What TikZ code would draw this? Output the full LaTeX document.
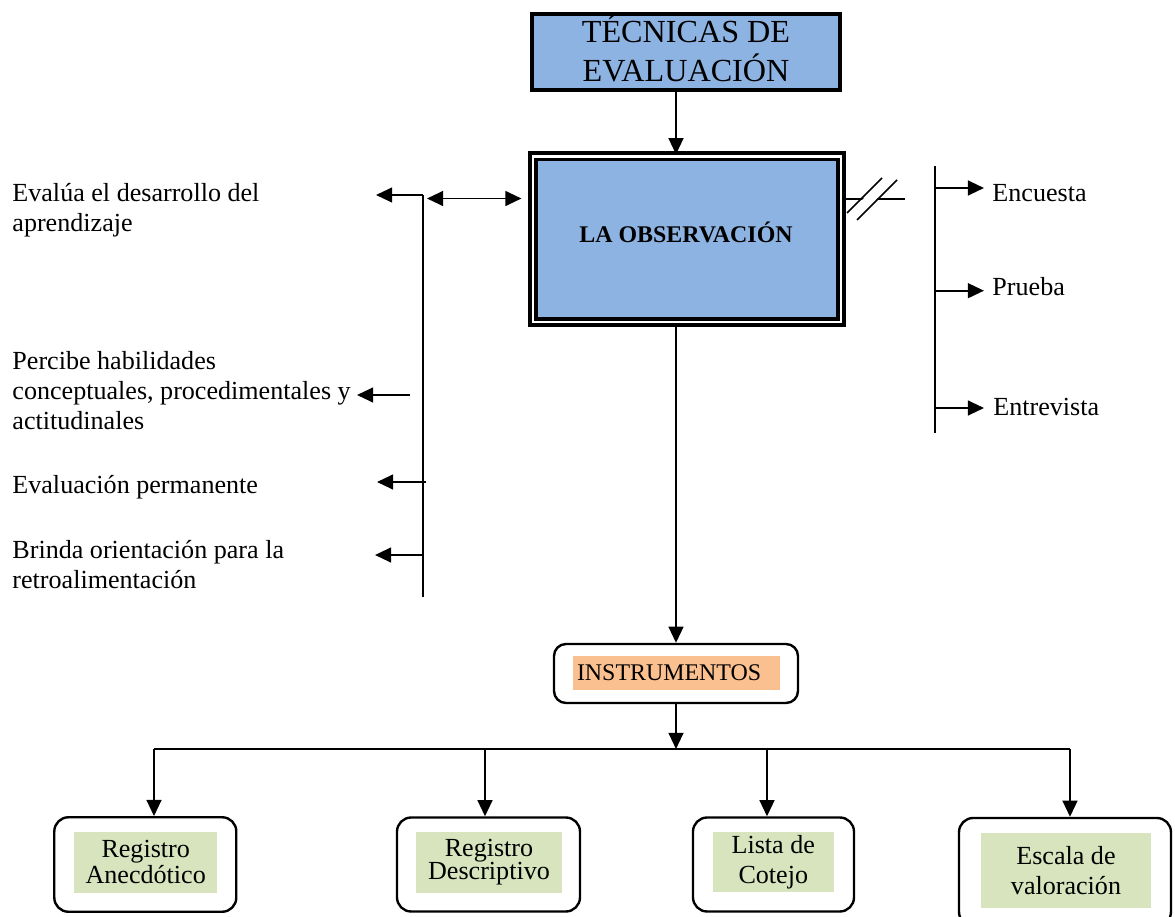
\documentclass[tikz,border=0pt]{standalone}
\usepackage{fontspec}
\setmainfont{Liberation Serif}
\usetikzlibrary{arrows.meta}

\newcommand\pxu{0.46pt}
\definecolor{obsblue}{HTML}{8DB3E2}
\definecolor{tagorange}{HTML}{FAC090}
\definecolor{taggreen}{HTML}{D7E4BD}

\tikzset{
  sz/.style 2 args={minimum width={#1*\pxu}, minimum height={#2*\pxu}},
  arr/.style={line width=0.9pt, -{Triangle[length=7.4pt,width=6.8pt]}},
  darr/.style={line width=0.9pt, {Triangle[length=7.4pt,width=6.8pt]}-{Triangle[length=7.4pt,width=6.8pt]}},
  bar/.style={line width=0.75pt},
  topbox/.style={draw, line width=1.8pt, fill=obsblue, inner sep=0pt},
  obsbox/.style={draw, double, line width=1.8pt, double distance=1.15pt, fill=obsblue, inner sep=0pt},
  ibox/.style={draw, line width=1.1pt, rounded corners=6.5pt, inner sep=0pt},
  tag/.style={inner sep=0pt, align=center, font=\fontsize{12}{13.8}\selectfont},
  txt/.style={inner sep=0pt, align=left, anchor=base west, font=\fontsize{12}{13.8}\selectfont},
}

\begin{document}
\begin{tikzpicture}[x=\pxu, y=-\pxu]
  \useasboundingbox (0,0) rectangle (1175,917);
  \clip (0,0) rectangle (1175,917);

  % Main boxes
  \node[topbox, sz={308}{76}] (tec) at (686,52) {};
  \node[inner sep=0pt, align=center, anchor=base, font=\fontsize{14.8}{17.5}\selectfont]
    (tectxt) at (686,81) {TÉCNICAS DE\\EVALUACIÓN};
  \node[obsbox, sz={308}{165.5}] (obs) at (687,239) {};
  \node[inner sep=0pt, anchor=base, font=\fontsize{11}{13}\selectfont\bfseries]
    (obstxt) at (686,242.7) {LA OBSERVACIÓN};

  \node[ibox, sz={244}{59}, rounded corners=5.5pt] (instr) at (676,673.5) {};
  \node[tag, fill=tagorange, minimum height={34*\pxu}, inner xsep={4*\pxu},
    text width={199*\pxu}, align=left, font=\fontsize{11}{12}\selectfont]
    (instrtag) at (676.5,673) {INSTRUMENTOS};

  % Instrument boxes
  \node[ibox, sz={182}{94.5}] (rb1) at (145.3,864.5) {};
  \node[ibox, sz={183}{94}]   (rb2) at (488.5,864.5) {};
  \node[ibox, sz={161}{94}]   (rb3) at (773.5,864.5) {};
  \node[ibox, sz={212}{108}]  (rb4) at (1065,872) {};
  \node[tag, fill=taggreen, sz={143}{61}, font=\fontsize{12}{10.8}\selectfont] (t1) at (145.7,862) {Registro\\Anecdótico};
  \node[tag, fill=taggreen, sz={146}{61}, font=\fontsize{12}{10.8}\selectfont] (t2) at (489,862) {Registro\\Descriptivo};
  \node[tag, fill=taggreen, sz={121}{60}] (t3) at (773.3,862) {Lista de\\Cotejo};
  \node[tag, fill=taggreen, sz={170}{75}] (t4) at (1066,870.5) {Escala de\\valoración};

  % Vertical flow
  \draw[arr] (tec.south -| instr.north) -- (obs.north -| instr.north);
  \draw[arr, shorten <=1.5pt] (obs.south -| instr.north) -- (instr.north);
  \coordinate (busc) at (676,749);
  \draw[arr] (instr.south) -- (busc);

  % Bus to the instruments
  \coordinate (bus1) at (154,749);
  \coordinate (bus2) at (485,749);
  \coordinate (bus3) at (767,749);
  \coordinate (bus4) at (1070,749);
  \draw[line width=0.9pt] (bus1) -- (bus4);
  \foreach \i in {1,...,4}
    \draw[arr] (bus\i) -- (bus\i |- rb\i.north);

  % Left bar with features
  \coordinate (bartop) at (423,195);
  \coordinate (barbot) at (423,597);
  \draw[bar] (bartop) -- (barbot);
  \coordinate (a1) at (376,195);
  \draw[arr] (bartop) -- (a1);
  \coordinate (d0) at (427,198.5);
  \draw[darr, shorten >=4.4pt] (d0) -- (obs.west |- d0);
  \coordinate (p0) at (410,395);
  \coordinate (p1) at (357,395);
  \draw[arr] (p0) -- (p1);
  \coordinate (e0) at (426,482);
  \coordinate (e1) at (377,482);
  \draw[arr] (e0) -- (e1);
  \coordinate (b0) at (423,555);
  \coordinate (b1) at (375,555);
  \draw[arr] (b0) -- (b1);

  \node[txt] (l1) at (12,231.7) {Evalúa el desarrollo del\\aprendizaje};
  \node[txt] (l2) at (12,429) {Percibe habilidades\\conceptuales, procedimentales y\\actitudinales};
  \node[txt] (l3) at (12,493) {Evaluación permanente};
  \node[txt] (l4) at (12,588) {Brinda orientación para la\\retroalimentación};

  % Broken link to the right
  \coordinate (brk0) at (846,199);
  \coordinate (brk1) at (905,199);
  \draw[line width=0.9pt] (brk0) -- (brk1);
  \fill[white] (849,213) -- (884,178) -- (895,180) -- (857,220) -- cycle;
  \draw[line width=0.8pt] (847,213) -- (882,178);
  \draw[line width=0.8pt] (857,220) -- (897,180);

  % Right bar with other techniques
  \coordinate (rtop) at (935,166);
  \coordinate (rbot) at (935,433);
  \draw[bar] (rtop) -- (rbot);
  \foreach \n/\y in {enc/188, pru/290.7, ent/408} {
    \coordinate (\n0) at (935,\y);
    \coordinate (\n1) at (984,\y);
    \draw[arr] (\n0) -- (\n1);
  }
  \node[txt] (enc) at (992,201.7) {Encuesta};
  \node[txt] (pru) at (992,295) {Prueba};
  \node[txt] (ent) at (993,415.7) {Entrevista};
\end{tikzpicture}
\end{document}
